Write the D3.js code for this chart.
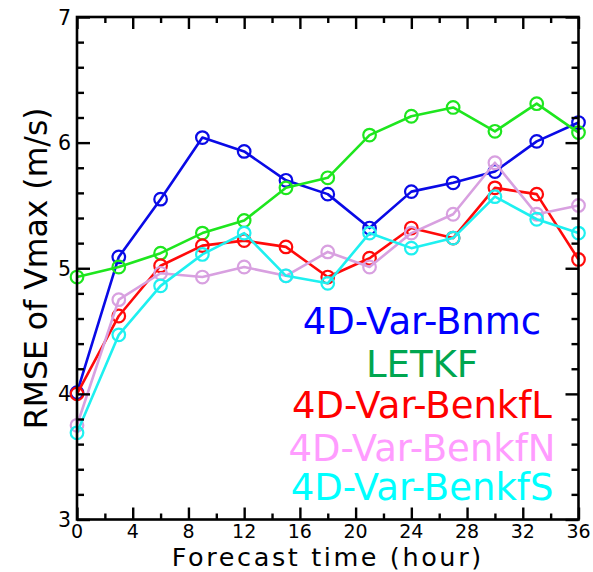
<!DOCTYPE html>
<html>
<head>
<meta charset="utf-8">
<script src="https://cdn.jsdelivr.net/npm/d3@7"></script>
<style>
  html, body { margin: 0; padding: 0; background: #fff; }
  svg { display: block; }
  text { font-family: "DejaVu Sans", sans-serif; }
</style>
</head>
<body>
<svg id="chart" width="593" height="572"></svg>
<script>
// ---- data ----
const hours = [0, 3, 6, 9, 12, 15, 18, 21, 24, 27, 30, 33, 36];
const bnmc   = [4.01, 5.09, 5.55, 6.04, 5.93, 5.70, 5.59, 5.32, 5.61, 5.68, 5.77, 6.01, 6.16];
const letkf  = [4.93, 5.01, 5.12, 5.28, 5.38, 5.64, 5.72, 6.06, 6.21, 6.28, 6.09, 6.31, 6.08];
const benkfL = [4.00, 4.62, 5.02, 5.18, 5.22, 5.17, 4.93, 5.08, 5.32, 5.24, 5.64, 5.59, 5.07];
const benkfN = [3.75, 4.75, 4.96, 4.93, 5.01, 4.94, 5.13, 5.01, 5.28, 5.43, 5.84, 5.43, 5.50];
const benkfS = [3.69, 4.47, 4.86, 5.11, 5.28, 4.94, 4.88, 5.28, 5.16, 5.24, 5.57, 5.39, 5.28];
const seriesNames = ["4D-Var-Bnmc", "LETKF", "4D-Var-BenkfL", "4D-Var-BenkfN", "4D-Var-BenkfS"];
const xTickLabels = [0, 4, 8, 12, 16, 20, 24, 28, 32, 36];
const yTickLabels = [3, 4, 5, 6, 7];
const xTitle = "Forecast time (hour)";
const yTitle = "RMSE of Vmax (m/s)";

// ---- styles ----
const lineColors = ["#0a0ae6", "#1ee61e", "#ff0a0a", "#d8a0e0", "#1ef0f0"];
const textColors = ["#0000ff", "#00a650", "#ff0000", "#ff9cff", "#00ffff"];

const svg = d3.select("#chart");
const L = 77, R = 578.5, T = 17, B = 519.5;
const x = d3.scaleLinear().domain([0, 36]).range([L, R]);
const y = d3.scaleLinear().domain([3, 7]).range([B, T]);

const seriesData = [bnmc, letkf, benkfL, benkfN, benkfS];

// series
const line = d3.line().x((d, i) => x(hours[i])).y(d => y(d));
seriesData.forEach((vals, k) => {
  const g = svg.append("g");
  g.append("path").datum(vals)
    .attr("d", line).attr("fill", "none")
    .attr("stroke", lineColors[k]).attr("stroke-width", 2.6)
    .attr("stroke-linejoin", "round");
  g.selectAll("circle").data(vals).join("circle")
    .attr("cx", (d, i) => x(hours[i])).attr("cy", d => y(d))
    .attr("r", 6.3).attr("fill", "none")
    .attr("stroke", lineColors[k]).attr("stroke-width", 2.2);
});

// axes (ticks inside, mirrored)
const xMajor = d3.range(0, 37, 4), xMinor = d3.range(2, 36, 4);
const yMajor = d3.range(3, 7.01, 1), yMinor = d3.range(3.2, 7, 0.2).filter(v => Math.abs(v - Math.round(v)) > 0.01);

const bottomMaj = d3.axisBottom(x).tickValues(xMajor).tickSizeInner(-12).tickSizeOuter(0).tickFormat("");
const bottomMin = d3.axisBottom(x).tickValues(xMinor).tickSizeInner(-6).tickSizeOuter(0).tickFormat("");
const topMaj = d3.axisTop(x).tickValues(xMajor).tickSizeInner(-12).tickSizeOuter(0).tickFormat("");
const topMin = d3.axisTop(x).tickValues(xMinor).tickSizeInner(-6).tickSizeOuter(0).tickFormat("");
const leftMaj = d3.axisLeft(y).tickValues(yMajor).tickSizeInner(-13).tickSizeOuter(0).tickFormat("");
const leftMin = d3.axisLeft(y).tickValues(yMinor).tickSizeInner(-7).tickSizeOuter(0).tickFormat("");
const rightMaj = d3.axisRight(y).tickValues(yMajor).tickSizeInner(-13).tickSizeOuter(0).tickFormat("");
const rightMin = d3.axisRight(y).tickValues(yMinor).tickSizeInner(-7).tickSizeOuter(0).tickFormat("");

const ax = svg.append("g");
[[bottomMaj, `translate(0,${B})`], [bottomMin, `translate(0,${B})`],
 [topMaj, `translate(0,${T})`], [topMin, `translate(0,${T})`],
 [leftMaj, `translate(${L},0)`], [leftMin, `translate(${L},0)`],
 [rightMaj, `translate(${R},0)`], [rightMin, `translate(${R},0)`]].forEach(([a, tr]) => {
  const g = ax.append("g").attr("transform", tr).call(a);
  g.select(".domain").remove();
  g.selectAll(".tick line").attr("stroke", "#000").attr("stroke-width", 2.4);
});
ax.append("rect").attr("x", L).attr("y", T).attr("width", R - L).attr("height", B - T)
  .attr("fill", "none").attr("stroke", "#000").attr("stroke-width", 2.6);

// tick labels
svg.append("g").selectAll("text").data(xTickLabels).join("text")
  .attr("x", d => x(d)).attr("y", 537.5).attr("text-anchor", "middle")
  .attr("font-size", 19).attr("fill", "#000").text(d => d);
svg.append("g").selectAll("text").data(yTickLabels).join("text")
  .attr("x", 71).attr("y", d => y(d) + 7.5).attr("text-anchor", "end")
  .attr("font-size", 20.5).attr("fill", "#000").text(d => d);

// titles
svg.append("text").attr("x", (L + R) / 2).attr("y", 565.5).attr("text-anchor", "middle")
  .attr("font-size", 25.5).attr("letter-spacing", 2.6).attr("fill", "#000").text(xTitle);
svg.append("text").attr("transform", `translate(47,${(T + B) / 2}) rotate(-90)`)
  .attr("text-anchor", "middle").attr("font-size", 31.5).attr("fill", "#000").text(yTitle);

// legend text
const legendBase = [334, 376.5, 418, 460.5, 500];
svg.append("g").selectAll("text").data(seriesNames).join("text")
  .attr("x", 422).attr("y", (d, i) => legendBase[i]).attr("text-anchor", "middle")
  .attr("font-size", 37).attr("fill", (d, i) => textColors[i]).text(d => d);
</script>
</body>
</html>
